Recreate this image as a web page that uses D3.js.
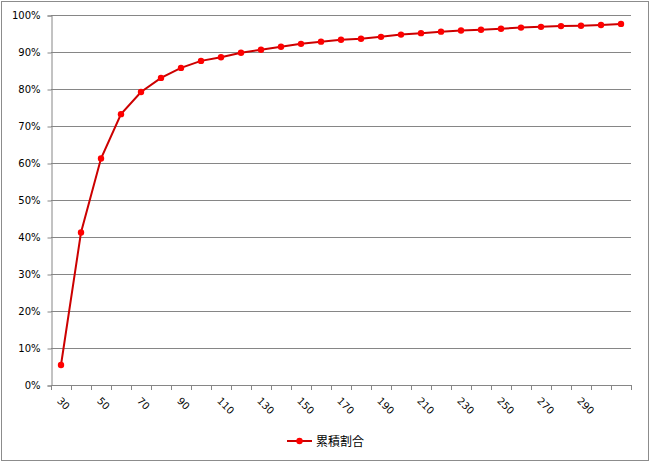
<!DOCTYPE html>
<html>
<head>
<meta charset="utf-8">
<script src="https://cdn.jsdelivr.net/npm/d3@7"></script>
<style>
  body { margin: 0; background: #fff; }
  text { font-family: "DejaVu Sans", Verdana, sans-serif; }
</style>
</head>
<body>
<svg id="chart"></svg>
<script>
// categories (x) and cumulative ratio values
var categories = [30, 40, 50, 60, 70, 80, 90, 100, 110, 120, 130, 140, 150, 160, 170,
  180, 190, 200, 210, 220, 230, 240, 250, 260, 270, 280, 290, 300, 310];
var ratios = [0.054, 0.412, 0.612, 0.732, 0.792, 0.830, 0.857, 0.876, 0.886, 0.898, 0.906,
  0.914, 0.922, 0.928, 0.933, 0.936, 0.941, 0.947, 0.951, 0.955, 0.958, 0.960, 0.963,
  0.966, 0.968, 0.970, 0.971, 0.973, 0.976];
var xLabels = [30, 50, 70, 90, 110, 130, 150, 170, 190, 210, 230, 250, 270, 290];
var yTicks = [0, 0.1, 0.2, 0.3, 0.4, 0.5, 0.6, 0.7, 0.8, 0.9, 1.0];
var seriesName = "累積割合";

var width = 651, height = 462;
var margin = { top: 15, right: 20, bottom: 77, left: 51 };

var svg = d3.select("#chart").attr("width", width).attr("height", height);

// outer frame
svg.append("rect")
  .attr("x", 1.5).attr("y", 1.5)
  .attr("width", width - 4).attr("height", height - 3)
  .attr("fill", "#fff").attr("stroke", "#8c8c8c");

var x = d3.scaleBand()
  .domain(categories)
  .range([margin.left, width - margin.right]);

var y = d3.scaleLinear()
  .domain([0, 1])
  .range([height - margin.bottom, margin.top]);

// ! gridlines
svg.append("g")
  .selectAll("line")
  .data(yTicks.slice(1))
  .enter()
  .append("line")
  .attr("x1", margin.left)
  .attr("x2", width - margin.right)
  .attr("y1", (d) => Math.round(y(d)) + 0.5)
  .attr("y2", (d) => Math.round(y(d)) + 0.5)
  .attr("stroke", "#868686");

// ! y axis
var yAxis = svg.append("g")
  .attr("transform", "translate(" + (margin.left + 0.5) + ",0.5)")
  .call(d3.axisLeft(y).tickValues(yTicks).tickSize(4).tickPadding(7)
    .tickFormat(d3.format(".0%")));
yAxis.selectAll("line, path").attr("stroke", "#868686");
yAxis.selectAll("text").attr("font-size", "10px").attr("fill", "#000");

// ! x axis (ticks at band edges)
var base = height - margin.bottom;
var xg = svg.append("g");
xg.append("line")
  .attr("x1", margin.left).attr("x2", width - margin.right)
  .attr("y1", base + 0.5).attr("y2", base + 0.5)
  .attr("stroke", "#868686");
xg.selectAll(".tick")
  .data(categories.concat([null]))
  .enter()
  .append("line")
  .attr("x1", (d, i) => margin.left + i * x.bandwidth() + 0.5)
  .attr("x2", (d, i) => margin.left + i * x.bandwidth() + 0.5)
  .attr("y1", base)
  .attr("y2", base + 5)
  .attr("stroke", "#868686");
xg.selectAll("text")
  .data(xLabels)
  .enter()
  .append("text")
  .attr("transform", (d) =>
    "translate(" + (x(d) + x.bandwidth() / 2 - 2) + "," + (base + 14) + ") rotate(45)")
  .attr("font-size", "10px")
  .attr("fill", "#000")
  .attr("dy", "0.35em")
  .text((d) => d);

// ! series line
var pts = categories.map((c, i) => [x(c) + x.bandwidth() / 2, y(ratios[i])]);
svg.append("path")
  .attr("d", d3.line()(pts))
  .attr("fill", "none")
  .attr("stroke", "#cc0000")
  .attr("stroke-width", 2);
svg.append("g")
  .selectAll("circle")
  .data(pts)
  .enter()
  .append("circle")
  .attr("cx", (d) => d[0])
  .attr("cy", (d) => d[1])
  .attr("r", 3.2)
  .attr("fill", "#ff0000");

// ! legend
var lg = svg.append("g").attr("transform", "translate(287,441)");
lg.append("line").attr("x1", 0).attr("x2", 25).attr("y1", 0).attr("y2", 0)
  .attr("stroke", "#cc0000").attr("stroke-width", 2);
lg.append("circle").attr("cx", 12.5).attr("cy", 0).attr("r", 3.2).attr("fill", "#ff0000");
lg.append("text")
  .attr("x", 29).attr("y", 0).attr("dy", "0.38em")
  .attr("font-size", "12px")
  .style("font-family", "'Noto Sans CJK JP', sans-serif")
  .text(seriesName);
</script>
</body>
</html>
